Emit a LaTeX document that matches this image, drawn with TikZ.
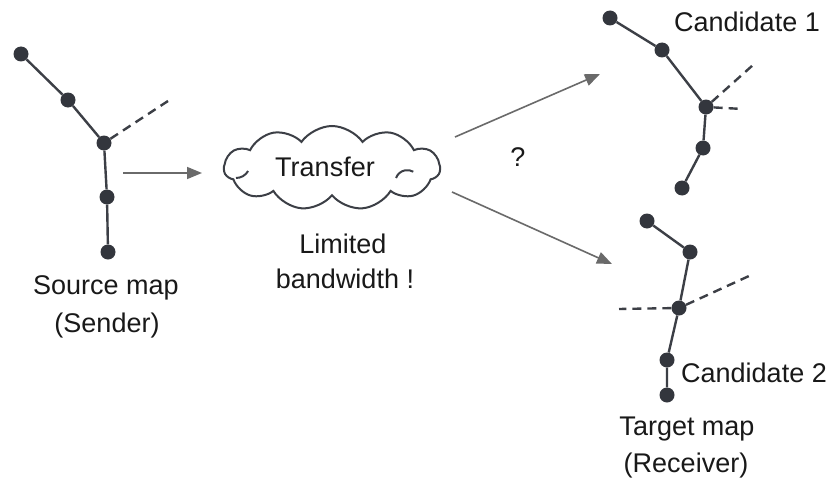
\documentclass[tikz,border=0pt]{standalone}
\usepackage{fontspec}
\setmainfont{Liberation Sans}
\usetikzlibrary{arrows.meta,shapes.symbols}
\definecolor{dotc}{HTML}{33363D}
\definecolor{linec}{HTML}{3C3F46}
\definecolor{arrc}{HTML}{6A6A6A}
\tikzset{
  dot/.style={circle,fill=dotc,inner sep=0pt,minimum size=15pt},
  edge/.style={draw=linec,line width=2.4pt},
  dashedge/.style={draw=linec,line width=2.4pt,dashed,dash pattern=on 9pt off 6pt},
  flow/.style={draw=arrc,line width=1.6pt,-{Triangle[length=15pt,width=12pt]}},
  lbl/.style={font=\fontsize{27}{32}\selectfont,text=black!90,inner sep=0pt}
}
\begin{document}
\begin{tikzpicture}[x=1pt,y=-1pt]
\useasboundingbox[fill=white] (0,0) rectangle (832,495);
% source map
\node[dot] (s1) at (21,54) {};
\node[dot] (s2) at (68,100) {};
\node[dot] (s3) at (104,143) {};
\node[dot] (s4) at (107,197) {};
\node[dot] (s5) at (108,252) {};
\coordinate (sd) at (168,101);
\draw[edge] (s1)--(s2)--(s3)--(s4)--(s5);
\draw[dashedge] (s3)--(sd);
\node[lbl] (srcl) at (106,288) {Source map};
\node[lbl] (srcs) at (107,326) {(Sender)};
% cloud
\node[cloud,draw=linec,line width=2pt,cloud puffs=11,cloud puff arc=110,aspect=2.6,minimum width=216pt,minimum height=84pt,inner sep=0pt] (cl) at (332,168) {};
\node[lbl] (tr) at (325,167) {Transfer};
\draw[linec,line width=2pt] (396,178) arc[start angle=160,end angle=60,radius=12pt];
\draw[linec,line width=2pt] (236,178) arc[start angle=270,end angle=330,radius=14pt];
\node[lbl] (lim) at (343,244) {Limited};
\node[lbl] (bw) at (345,279) {bandwidth !};
\coordinate (a0) at (123,173);
\coordinate (a1) at (202,173);
\draw[flow] (a0)--(a1);
\coordinate (u0) at (455,137);
\coordinate (u1) at (600,74);
\draw[flow] (u0)--(u1);
\coordinate (l0) at (452,192);
\coordinate (l1) at (612,264);
\draw[flow] (l0)--(l1);
\node[lbl] (q) at (518,157) {?};
% candidate 1
\node[dot] (c1) at (610,18) {};
\node[dot] (c2) at (662,50) {};
\node[dot] (c3) at (706,107) {};
\node[dot] (c4) at (703,148) {};
\node[dot] (c5) at (682,188) {};
\coordinate (cd1) at (753,65);
\coordinate (cd2) at (743,109);
\draw[edge] (c1)--(c2)--(c3)--(c4)--(c5);
\draw[dashedge] (c3)--(cd1);
\draw[dashedge] (c3)--(cd2);
\node[lbl,anchor=west] (cand1) at (674,22) {Candidate 1};
% candidate 2
\node[dot] (d1) at (647,221) {};
\node[dot] (d2) at (690,252) {};
\node[dot] (d3) at (679,308) {};
\node[dot] (d4) at (667,360) {};
\node[dot] (d5) at (667,395) {};
\coordinate (dd1) at (619,309);
\coordinate (dd2) at (749,276);
\draw[edge] (d1)--(d2)--(d3)--(d4)--(d5);
\draw[dashedge] (d3)--(dd1);
\draw[dashedge] (d3)--(dd2);
\node[lbl,anchor=west] (cand2) at (681,373) {Candidate 2};
\node[lbl] (tgt) at (687,429) {Target map};
\node[lbl] (rcv) at (686,466) {(Receiver)};
\end{tikzpicture}
\end{document}
